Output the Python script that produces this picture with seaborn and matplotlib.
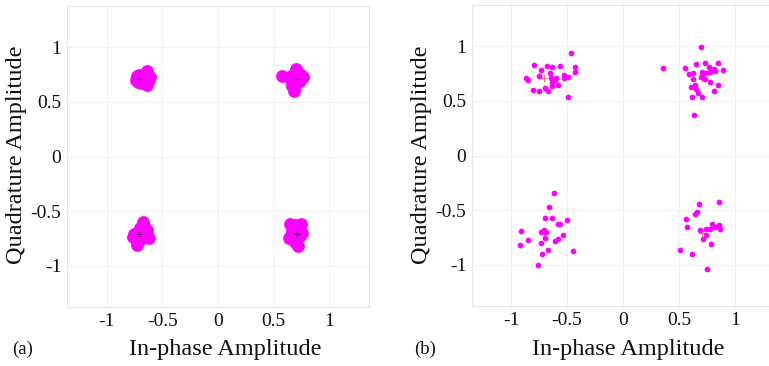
import numpy as np
import pandas as pd
import matplotlib
matplotlib.use("Agg")
import matplotlib.pyplot as plt
import seaborn as sns

# ---- data ----
# (a) received symbols, tight clusters
a_i = [-0.73, -0.74, -0.72, -0.70, -0.68, -0.69, -0.66, -0.64, -0.63, -0.61, -0.64, -0.66, -0.71, -0.67, -0.62,
       0.58, 0.70, 0.68, 0.77, 0.72, 0.69, 0.66, 0.67, 0.70, 0.74, 0.72, 0.75, 0.66, 0.71, 0.68,
       -0.68, -0.67, -0.70, -0.64, -0.62, -0.66, -0.72, -0.76, -0.77, -0.73, -0.70, -0.68, -0.74, -0.64, -0.71,
       0.65, 0.69, 0.75, 0.76, 0.73, 0.67, 0.64, 0.66, 0.70, 0.72, 0.69, 0.74, 0.71, 0.68, 0.67]
a_q = [0.74, 0.70, 0.68, 0.72, 0.70, 0.67, 0.73, 0.78, 0.75, 0.73, 0.66, 0.69, 0.75, 0.74, 0.70,
       0.74, 0.80, 0.60, 0.73, 0.76, 0.74, 0.70, 0.65, 0.68, 0.69, 0.71, 0.75, 0.74, 0.78, 0.63,
       -0.60, -0.64, -0.66, -0.67, -0.75, -0.74, -0.70, -0.71, -0.74, -0.81, -0.77, -0.70, -0.75, -0.72, -0.73,
       -0.62, -0.63, -0.62, -0.70, -0.68, -0.67, -0.75, -0.72, -0.74, -0.82, -0.78, -0.73, -0.69, -0.71, -0.76]

# (b) received symbols, wider spread
b_i = [-0.464, -0.795, -0.676, -0.637, -0.562, -0.426, -0.431, -0.735, -0.747, -0.866, -0.848, -0.655,
       -0.643, -0.610, -0.595, -0.530, -0.527, -0.494, -0.631, -0.580, -0.634, -0.699, -0.806, -0.753,
       -0.667, -0.491,
       0.696, 0.357, 0.551, 0.652, 0.729, 0.845, 0.771, 0.818, 0.821, 0.896, 0.589, 0.628, 0.705, 0.711,
       0.738, 0.777, 0.693, 0.732, 0.625, 0.777, 0.845, 0.640, 0.607, 0.652, 0.818, 0.673, 0.616, 0.702,
       0.631,
       -0.613, -0.664, -0.693, -0.637, -0.497, -0.577, -0.563, -0.914, -0.732, -0.708, -0.688, -0.693,
       -0.539, -0.583, -0.607, -0.845, -0.729, -0.917, -0.667, -0.720, -0.446, -0.759,
       0.676, 0.857, 0.661, 0.646, 0.565, 0.571, 0.685, 0.744, 0.774, 0.795, 0.821, 0.860, 0.866, 0.744,
       0.714, 0.783, 0.509, 0.619, 0.753]
b_q = [0.938, 0.831, 0.822, 0.816, 0.819, 0.816, 0.767, 0.783, 0.728, 0.709, 0.691, 0.752,
       0.709, 0.691, 0.709, 0.737, 0.709, 0.721, 0.673, 0.648, 0.633, 0.618, 0.603, 0.587,
       0.587, 0.533,
       0.995, 0.804, 0.801, 0.837, 0.852, 0.849, 0.807, 0.795, 0.773, 0.785, 0.749, 0.758, 0.770, 0.746,
       0.755, 0.764, 0.718, 0.703, 0.700, 0.673, 0.645, 0.648, 0.627, 0.612, 0.596, 0.575, 0.533, 0.536,
       0.371,
       -0.347, -0.469, -0.575, -0.575, -0.588, -0.624, -0.624, -0.691, -0.700, -0.682, -0.697, -0.752,
       -0.727, -0.770, -0.785, -0.779, -0.804, -0.825, -0.868, -0.901, -0.877, -1.007,
       -0.445, -0.426, -0.517, -0.536, -0.584, -0.654, -0.682, -0.670, -0.670, -0.630, -0.658, -0.633,
       -0.676, -0.728, -0.770, -0.810, -0.871, -0.901, -1.038]

# ideal QPSK constellation points
ref_i = [-0.7071, 0.7071, -0.7071, 0.7071]
ref_q = [0.7071, 0.7071, -0.7071, -0.7071]

tick_vals = [-1, -0.5, 0, 0.5, 1]
tick_labels = ["-1", "-0.5", "0", "0.5", "1"]
panel_labels = ["(a)", "(b)"]
xlabel = "In-phase Amplitude"
ylabel = "Quadrature Amplitude"

# ---- styling ----
sns.set_style("white")
plt.rcParams["font.family"] = ["Liberation Serif", "DejaVu Serif"]
plt.rcParams["axes.unicode_minus"] = False

fig = plt.figure(figsize=(7.69, 3.66), dpi=100)
W, H = 769, 366


def add_axes_px(left, top, right, bottom):
    return fig.add_axes([left / W, 1 - bottom / H, (right - left) / W, (bottom - top) / H])


ax_a = add_axes_px(67, 6, 369, 307)
ax_b = add_axes_px(472, 5, 774, 306)

df_a = pd.DataFrame({"I": a_i, "Q": a_q})
df_b = pd.DataFrame({"I": b_i, "Q": b_q})
df_ref = pd.DataFrame({"I": ref_i, "Q": ref_q})

magenta = "#ff00ff"
sns.scatterplot(data=df_a, x="I", y="Q", ax=ax_a, color=magenta, s=85, linewidth=0, zorder=3)
sns.scatterplot(data=df_ref, x="I", y="Q", ax=ax_a, color="#333333", marker="+", s=25, linewidth=0.7, zorder=4)

sns.scatterplot(data=df_ref, x="I", y="Q", ax=ax_b, color="#ff7070", marker="+", s=30, linewidth=0.7, zorder=3)
sns.scatterplot(data=df_b, x="I", y="Q", ax=ax_b, color=magenta, s=17, linewidth=0, zorder=4)

for ax, xl, yl in [(ax_a, 1.36, 1.38), (ax_b, 1.35, 1.38)]:
    ax.set_xlim(-xl, xl)
    ax.set_ylim(-yl, yl)
    ax.set_xticks(tick_vals)
    ax.set_xticklabels(tick_labels)
    ax.set_yticks(tick_vals)
    ax.set_yticklabels(tick_labels)
    ax.tick_params(axis="both", length=0, labelsize=14, colors="#111111", pad=4)
    ax.grid(True, color="#f0f0f0", linewidth=0.8, zorder=0)
    ax.set_axisbelow(True)
    for sp in ax.spines.values():
        sp.set_color("#e6e6e6")
        sp.set_linewidth(0.8)
    ax.set_xlabel("")
    ax.set_ylabel("")

# axis titles and panel labels placed in figure pixels
fig.text(225 / W, 1 - 349 / H, xlabel, ha="center", va="center", fontsize=17.5, color="#111111")
fig.text(628 / W, 1 - 349 / H, xlabel, ha="center", va="center", fontsize=17.5, color="#111111")
fig.text(17 / W, 1 - 155 / H, ylabel, ha="center", va="center", rotation=90, fontsize=17.5, color="#111111")
fig.text(422 / W, 1 - 155 / H, ylabel, ha="center", va="center", rotation=90, fontsize=17.5, color="#111111")
fig.text(23 / W, 1 - 349 / H, panel_labels[0], ha="center", va="center", fontsize=13.5, color="#111111")
fig.text(425 / W, 1 - 349 / H, panel_labels[1], ha="center", va="center", fontsize=13.5, color="#111111")

fig.savefig("out.png", dpi=100)
